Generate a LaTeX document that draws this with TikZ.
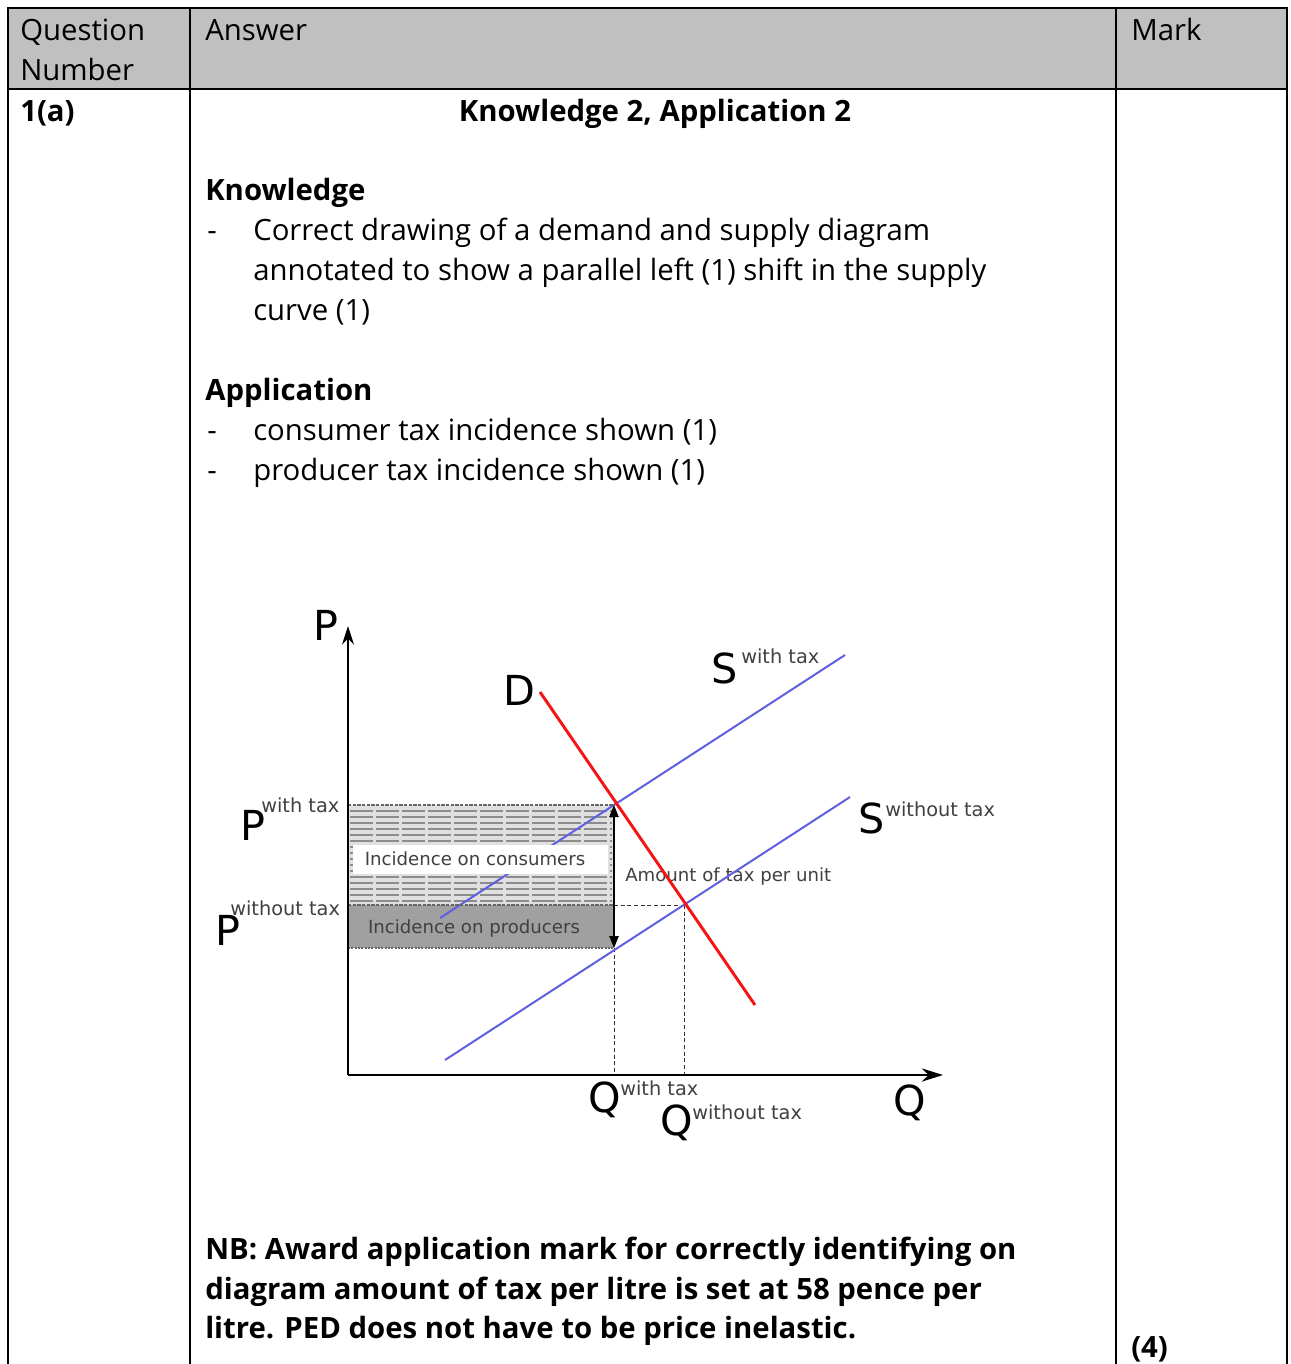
\documentclass[tikz,border=0pt]{standalone}
\usepackage{fontspec}
\setmainfont{Open Sans}
\newfontfamily\dejavu{DejaVu Sans}
\usetikzlibrary{arrows.meta}
\definecolor{headgrey}{RGB}{192,192,192}
\definecolor{boxgrey}{RGB}{160,160,160}
\definecolor{supplyblue}{RGB}{95,95,225}
\definecolor{demandred}{RGB}{245,20,20}

\begin{document}
\begin{tikzpicture}[x=0.75pt, y=-0.75pt,
        txt/.style={anchor=base west, inner sep=0pt, font=\fontsize{22}{30}\selectfont},
        btxt/.style={anchor=base west, inner sep=0pt, font=\fontsize{22}{30}\selectfont\bfseries},
        rule/.style={line width=1.5pt},
        big/.style={inner sep=0pt, font=\dejavu\fontsize{31}{31}\selectfont},
        sup/.style={anchor=base west, inner sep=0pt, text=black!75, font=\dejavu\fontsize{14.5}{15}\selectfont},
        lab/.style={inner sep=0pt, text=black!75, font=\dejavu\fontsize{13.6}{14}\selectfont},
        supply/.style={draw=supplyblue, line width=1.5pt},
        guide/.style={dash pattern=on 3pt off 2pt, line width=0.6pt, black!80}
    ]
    \useasboundingbox (0,0) rectangle (1291,1364);

    % table
    \fill[headgrey] (8,8) rectangle (1287,89);
    \draw[rule] (8,1364) -- (8,8) -- (1287,8) -- (1287,1364);
    \draw[rule] (8,89) -- (1287,89);
    \draw[rule] (190,8) -- (190,1364);
    \draw[rule] (1116,8) -- (1116,1364);

    \node[txt] (qhead1) at (20,40) {Question};
    \node[txt] (qhead2) at (20,80) {Number};
    \node[txt] (ahead) at (205,40) {Answer};
    \node[txt] (mhead) at (1131,40) {Mark};
    \node[btxt] (qnum) at (20,121) {1(a)};
    \node[btxt, anchor=base] (split) at (655,121) {Knowledge 2, Application 2};

    \node[btxt] (know) at (205,200) {Knowledge};
    \node[txt] (dash1) at (207,240) {-};
    \node[txt] (know1) at (253,240) {Correct drawing of a demand and supply diagram};
    \node[txt] (know2) at (253,280) {annotated to show a parallel left (1) shift in the supply};
    \node[txt] (know3) at (253,320) {curve (1)};

    \node[btxt] (appl) at (205,400) {Application};
    \node[txt] (dash2) at (207,440) {-};
    \node[txt] (appl1) at (253,440) {consumer tax incidence shown (1)};
    \node[txt] (dash3) at (207,480) {-};
    \node[txt] (appl2) at (253,480) {producer tax incidence shown (1)};

    \node[btxt] (nb1) at (205,1259) {NB: Award application mark for correctly identifying on};
    \node[btxt] (nb2) at (205,1299) {diagram amount of tax per litre is set at 58 pence per};
    \node[btxt] (nb3) at (205,1338) {litre. PED does not have to be price inelastic.};
    \node[btxt] (marks) at (1131,1357) {(4)};

    % diagram points
    \coordinate (orig) at (348,1075);
    \coordinate (ptop) at (348,626);
    \coordinate (qend) at (943,1075);
    \coordinate (ewith) at (614,805);
    \coordinate (ewithout) at (684,905);
    \coordinate (prodlow) at (614,948);
    \coordinate (qwith) at (614,1075);
    \coordinate (qwithout) at (684,1075);
    \coordinate (dstart) at (540,692);
    \coordinate (dend) at (755,1005);
    \coordinate (stax0) at (440,918);
    \coordinate (stax1) at (845,655);
    \coordinate (snotax0) at (445,1060);
    \coordinate (snotax1) at (850,797);

    % incidence areas
    \fill[black!12] (348,805) rectangle (614,905);
    \foreach \y in {811,817,...,901}
        \draw[black!45, line width=1.2pt, dash pattern=on 17pt off 2.5pt] (350,\y) -- (612,\y);
    \fill[boxgrey] (348,905) rectangle (614,948);
    \draw[supply] (stax0) -- (stax1);
    \fill[white] (353,845) rectangle (608,874);
    \node[lab] (cons) at (475,859) {Incidence on consumers};
    \node[lab] (prod) at (474,928) {Incidence on producers};
    \draw[black!60, dash pattern=on 2.5pt off 1pt, line width=0.8pt] (348,805) -- (ewith);
    \draw[black!60, dash pattern=on 2.5pt off 1pt, line width=0.8pt] (348,905) -- (614,905);
    \draw[black!60, dash pattern=on 1.5pt off 1pt, line width=0.8pt] (348,948) -- (prodlow);

    \node[lab, anchor=west] (amount) at (625,876) {Amount of tax per unit};

    % guides
    \draw[guide] (614,905) -- (ewithout);
    \draw[guide] (prodlow) -- (qwith);
    \draw[guide] (ewithout) -- (qwithout);

    % curves
    \draw[supply] (snotax0) -- (snotax1);
    \draw[demandred, line width=2.2pt] (dstart) -- (dend);
    \draw[line width=1pt, {Triangle[length=9pt, width=7pt]}-{Triangle[length=9pt, width=7pt]}] (ewith) -- (prodlow);

    % axes
    \draw[line width=1.2pt, -{Stealth[length=14pt, width=9pt]}] (orig) -- (ptop);
    \draw[line width=1.2pt, -{Stealth[length=16pt, width=10pt]}] (orig) -- (qend);

    % labels
    \node[big] (plab) at (326,625) {P};
    \node[big] (dlab) at (519,690) {D};
    \node[big] (swlab) at (725,668) {S};
    \node[sup] (swsup) at (741,663) {with tax};
    \node[big] (snlab) at (872,818) {S};
    \node[sup] (snsup) at (885,816) {without tax};
    \node[big] (pwlab) at (253,825) {P};
    \node[sup] (pwsup) at (261,812) {with tax};
    \node[big] (pnlab) at (228,930) {P};
    \node[sup] (pnsup) at (230,915) {without tax};
    \node[big] (qwlab) at (605,1100) {Q};
    \node[sup] (qwsup) at (620,1095) {with tax};
    \node[big] (qnlab) at (677,1123) {Q};
    \node[sup] (qnsup) at (692,1119) {without tax};
    \node[big] (qlab) at (910,1103) {Q};
\end{tikzpicture}
\end{document}
